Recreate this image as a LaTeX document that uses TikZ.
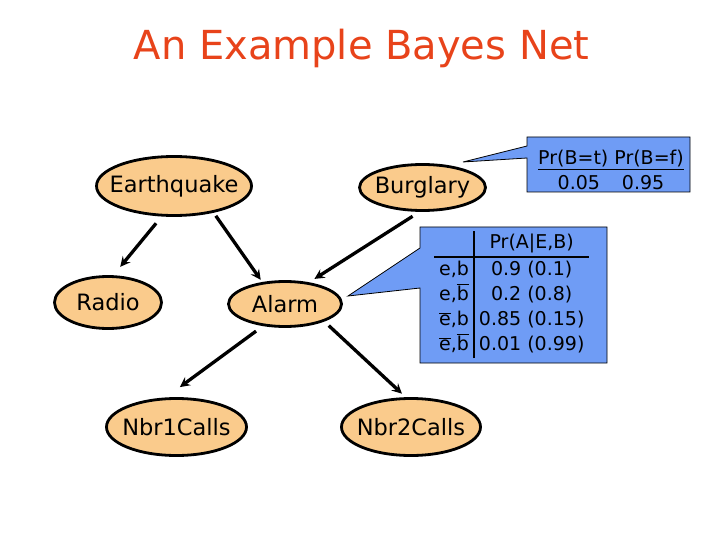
\documentclass[tikz,border=0pt]{standalone}
\usepackage{fontspec}
\setmainfont{DejaVu Sans}
\usepackage{tikz}
\usetikzlibrary{arrows,shapes.geometric}

\definecolor{titlered}{HTML}{E8431A}
\definecolor{nodeorange}{HTML}{FACB8C}
\definecolor{cptblue}{HTML}{6F9CF5}
\newcommand{\nbar}[1]{$\overline{\mbox{#1}}$}

\begin{document}
\begin{tikzpicture}[x=1bp, y=-1bp, >=stealth]
		\tikzstyle{bnode} = [ellipse, draw, line width=2.8bp, fill=nodeorange, inner sep=0pt, font=\fontsize{22.5bp}{27bp}\selectfont]
		\tikzstyle{arc} = [->, line width=3.3bp]
		\tikzstyle{cpt} = [draw=black, line width=0.8bp, fill=cptblue]
		\tikzstyle{cpttext} = [inner sep=0pt, font=\fontsize{19bp}{25bp}\selectfont]

		\useasboundingbox (0,0) rectangle (720,540);

		\node[font=\fontsize{40bp}{48bp}\selectfont, text=titlered, anchor=base] (title) at (361.5,60) {An Example Bayes Net};

		% the network
		\node[bnode, minimum width=155bp, minimum height=59bp] (eq) at (174,186) {\makebox[0pt]{Earthquake}};
		\node[bnode, minimum width=126bp, minimum height=46bp] (burg) at (422.5,187.5) {\makebox[0pt]{Burglary}};
		\node[bnode, minimum width=107bp, minimum height=52bp] (radio) at (108,302.5) {\makebox[0pt]{Radio}};
		\node[bnode, minimum width=113bp, minimum height=45bp] (alarm) at (285,304) {\makebox[0pt]{Alarm}};
		\node[bnode, minimum width=140bp, minimum height=57bp] (nbr1) at (176.5,427) {\makebox[0pt]{Nbr1Calls}};
		\node[bnode, minimum width=139bp, minimum height=57bp] (nbr2) at (411,427) {\makebox[0pt]{Nbr2Calls}};

		\path[arc]
		(eq.248) edge[shorten <=8.8bp, shorten >=10.9bp] (radio.79)
		(eq.326) edge[shorten <=3.8bp, shorten >=2.7bp] (alarm.136)
		(burg.263) edge[shorten <=8.2bp, shorten >=6.3bp] (alarm.42)
		(alarm.225) edge[shorten <=8.5bp, shorten >=17.5bp] (nbr1.110)
		(alarm.336) edge[shorten <=6bp, shorten >=5.2bp] (nbr2.100)
		;

		% probability tables
		\coordinate (tipB) at (463,162);
		\coordinate (tipA) at (348,296);
		\draw[cpt] (527,137) -- (690,137) -- (690,192) -- (527,192) -- (527,158) -- (tipB) -- (527,146) -- cycle;
		\draw[cpt] (420,227) -- (607,227) -- (607,363) -- (420,363) -- (420,288) -- (tipA) -- (420,248) -- cycle;

		\node[cpttext, align=center, anchor=base] (prB) at (611,190) {\underline{Pr(B=t) Pr(B=f)}\\0.05\hspace{22bp}0.95};
		\node[cpttext, anchor=north west] (prA) at (434,231) {\setlength{\tabcolsep}{5bp}\setlength{\arrayrulewidth}{1.8bp}%
			\begin{tabular}{r|c}
				& Pr(A|E,B)\\ \hline
				e,b & 0.9 (0.1)\\
				e,\nbar{b} & 0.2 (0.8)\\
				\nbar{e},b & 0.85 (0.15)\\
				\nbar{e},\nbar{b} & 0.01 (0.99)\rule[-4bp]{0pt}{4bp}
			\end{tabular}};

		\end{tikzpicture}
\end{document}
